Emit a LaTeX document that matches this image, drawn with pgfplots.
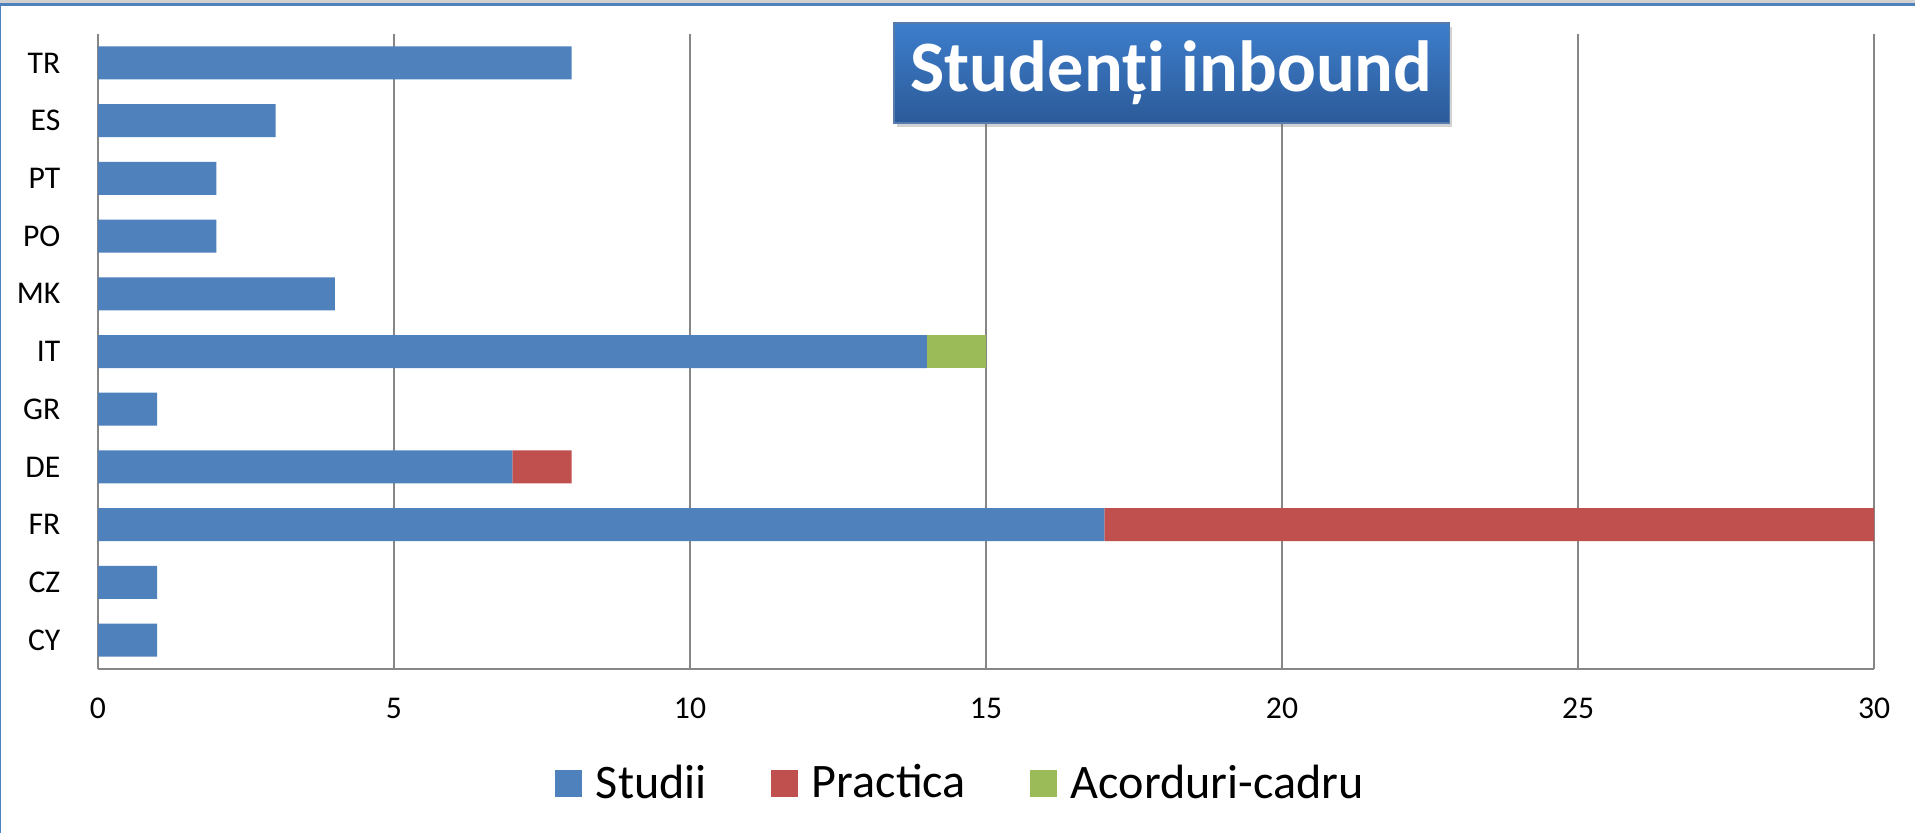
\documentclass[border=0pt]{standalone}
\usepackage{pgfplots}
\usepackage{pgfplotstable}
\pgfplotsset{compat=1.18}
\usepackage{fontspec}
\setmainfont{Carlito}
\usetikzlibrary{shadows}

\definecolor{studii}{HTML}{4F81BD}
\definecolor{practica}{HTML}{C0504D}
\definecolor{acord}{HTML}{9BBB59}
\definecolor{gridgray}{HTML}{868686}
\definecolor{frameblue}{HTML}{4F81BD}
\definecolor{titletop}{HTML}{3D7ECC}
\definecolor{titlebot}{HTML}{2C5A98}

% y  studii practica acord   (bottom to top: CY ... TR)
\pgfplotstableread{
y studii practica acord
1 1 0 0
2 1 0 0
3 17 13 0
4 7 1 0
5 1 0 0
6 14 0 1
7 4 0 0
8 2 0 0
9 2 0 0
10 3 0 0
11 8 0 0
}\inbound

\begin{document}
\begin{tikzpicture}
\useasboundingbox (0,0) rectangle (19.15,8.33);
\fill[white] (0,0) rectangle (19.15,8.33);
% window frame
\fill[black!18] (0,8.30) rectangle (19.15,8.33);
\fill[frameblue] (0,8.27) rectangle (19.15,8.30);
\fill[frameblue] (0,0) rectangle (0.012,8.30);

\begin{axis}[
  at={(0.98cm,1.64cm)}, anchor=south west,
  scale only axis, width=17.76cm, height=6.35cm,
  xbar stacked, bar width=0.33cm,
  xmin=0, xmax=30, ymin=0.5, ymax=11.5,
  xtick={0,5,...,30},
  ytick={1,...,11},
  yticklabels={CY,CZ,FR,DE,GR,IT,MK,PO,PT,ES,TR},
  axis x line*=bottom, axis y line*=left,
  axis line style={gridgray, line width=0.6pt, -},
  xmajorgrids, grid style={gridgray, line width=0.6pt},
  major tick length=0pt,
  tick label style={font=\fontsize{9}{10}\selectfont, inner sep=0pt},
  xticklabel style={anchor=center, yshift=-0.39cm},
  yticklabel style={anchor=east, xshift=-0.37cm},
  /pgf/number format/assume math mode=true,
  legend columns=3,
  legend style={at={(0.485,-0.181)}, anchor=center, draw=none,
    font=\fontsize{13.7}{16}\selectfont,
    nodes={inner sep=0pt},
    /tikz/every odd column/.append style={column sep=0.14cm},
    /tikz/every even column/.append style={column sep=0.64cm}},
  legend image code/.code={\fill[#1] (0cm,-0.135cm) rectangle (0.27cm,0.135cm);},
]
\addplot[fill=studii, draw=none] table[x=studii, y=y] {\inbound};
\addplot[fill=practica, draw=none] table[x=practica, y=y] {\inbound};
\addplot[fill=acord, draw=none] table[x=acord, y=y] {\inbound};
\legend{Studii, Practica, Acorduri-cadru}
\end{axis}

\node[top color=titletop, bottom color=titlebot, draw=titlebot!80!white, line width=0.3pt,
  drop shadow={shadow xshift=0.03cm, shadow yshift=-0.04cm, opacity=0.35},
  minimum width=5.55cm, minimum height=1.00cm, inner sep=0pt,
  text=white, font=\bfseries\fontsize{20.6}{24}\selectfont]
  at (11.715,7.60) {Studenți inbound};
\end{tikzpicture}
\end{document}
